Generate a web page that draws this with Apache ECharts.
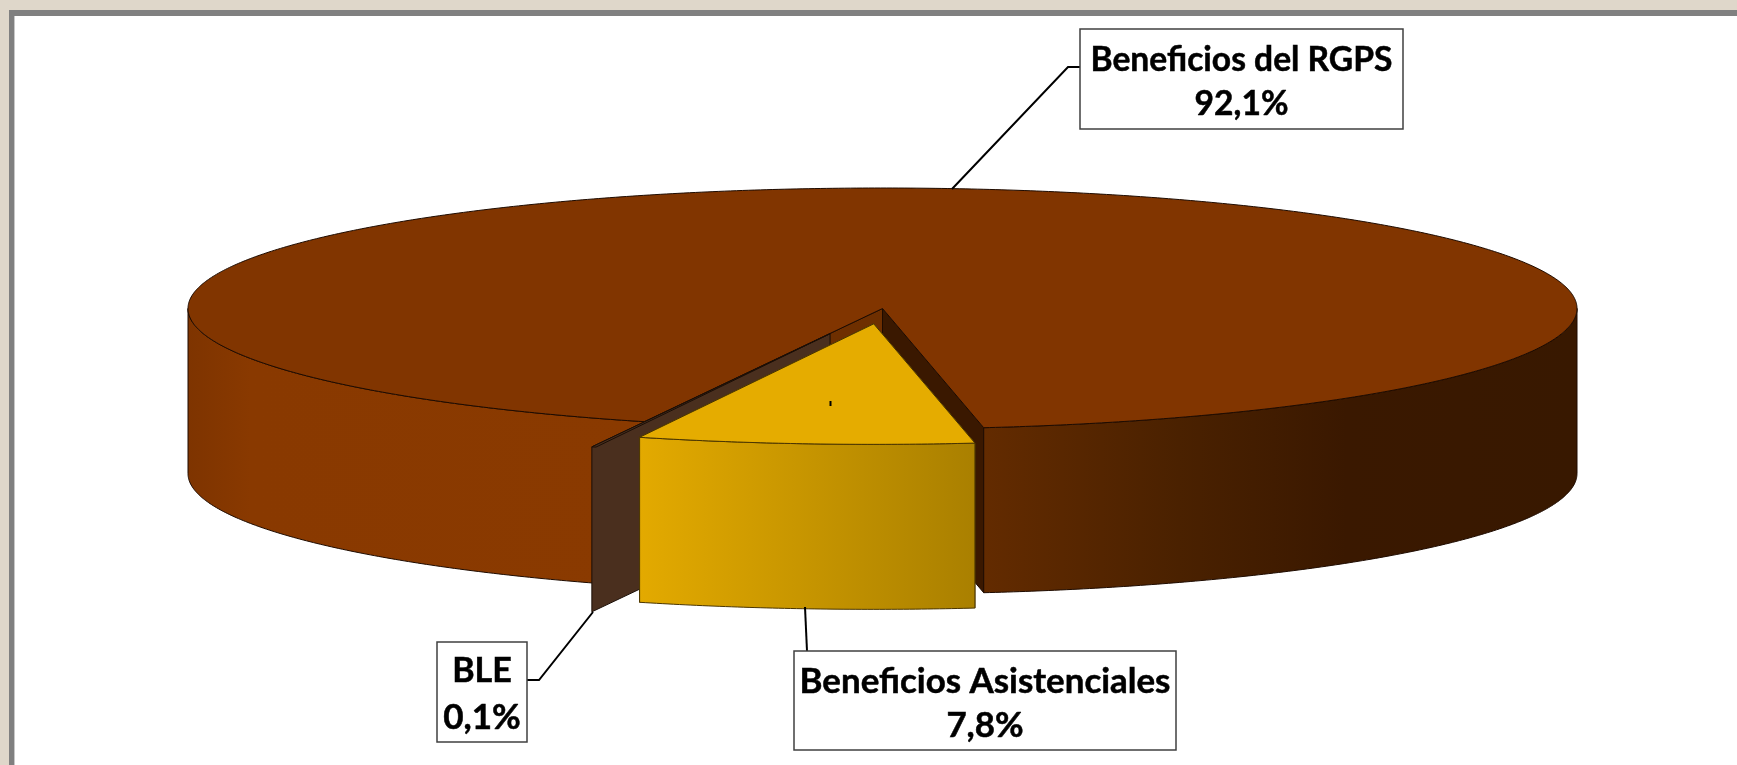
<!DOCTYPE html>
<html>
<head>
<meta charset="utf-8">
<style>
    html, body { margin: 0; padding: 0; background: #dfd7ca; }
    #chart { width: 1737px; height: 765px; }
</style>
<script src="https://cdn.jsdelivr.net/npm/echarts@6/dist/echarts.min.js"></script>
</head>
<body>
<div id="chart"></div>
<script>
const categories = ['Beneficios del RGPS', 'Beneficios Asistenciales', 'BLE'];
const shares = [92.1, 7.8, 0.1];

// pie geometry in pixels, angles in degrees going clockwise on screen
const PIE = { cx: 882.5, cy: 308.5, rx: 694.5, ry: 120.5, depth: 165, startAngle: 110.06 };
const explode = [0, 0.128, 0.222];

// wall stops are offsets over the whole ellipse width
const sliceStyles = [
    {
        top: '#813500', edge: '#1e0b00', startWall: '#6e2f00', endWall: '#3a1800',
        wall: [[0, '#7e3400'], [0.045, '#893900'], [0.329, '#8a3a00'], [0.573, '#632b00'],
            [0.714, '#4a2100'], [0.834, '#3a1800'], [1, '#381800']]
    },
    {
        top: '#e5ac00', edge: '#4a3500', startWall: '#aa8000', endWall: '#aa8000',
        wall: [[0, '#e5ac00'], [0.331, '#e3aa00'], [0.572, '#aa8000'], [1, '#aa8000']]
    },
    {
        top: '#4a2f1e', edge: '#1a0e06', startWall: '#4a2f1e', endWall: '#4a2f1e',
        wall: [[0, '#4a2f1e'], [1, '#4a2f1e']]
    }
];

// callout boxes, leader runs from the pie to the box
const callouts = [
    { box: [1080, 29, 323, 100], lines: [60, 104], leader: [[952, 189], [1068, 67], [1080, 67]], squeeze: [0.988, 0.988] },
    { box: [794, 651, 382, 99], lines: [682, 726], leader: [[805, 607], [807, 651]], squeeze: [1.026, 1.026] },
    { box: [437, 642, 90, 100], lines: [671, 718], leader: [[593, 612], [539, 680], [527, 680]], squeeze: [1, 1.03] }
];

const total = shares.reduce(function (a, b) { return a + b; }, 0);

function rad(deg) {
    return deg * Math.PI / 180;
}

/**
 * Start and end angle of every slice, taken from its share.
 */
function sliceAngles() {
    let from = PIE.startAngle;
    return shares.map(function (share) {
        const to = from + share / total * 360;
        const range = [from, to];
        from = to;
        return range;
    });
}

function rimPoint(deg, ox, oy) {
    return [PIE.cx + ox + PIE.rx * Math.cos(rad(deg)), PIE.cy + oy + PIE.ry * Math.sin(rad(deg))];
}

function arcPoints(from, to, ox, oy) {
    const pts = [];
    const steps = Math.max(1, Math.ceil((to - from) * 2));
    for (let i = 0; i <= steps; i++) {
        pts.push(rimPoint(from + (to - from) * i / steps, ox, oy));
    }
    return pts;
}

function down(pt) {
    return [pt[0], pt[1] + PIE.depth];
}

function poly(points, fill, stroke, z2) {
    return {
        type: 'polygon',
        z2: z2,
        shape: { points: points },
        style: { fill: fill, stroke: stroke, lineWidth: 1, lineJoin: 'round' }
    };
}

// parts of the slice's outer wall that face the viewer
function frontRanges(from, to) {
    const ranges = [];
    [0, 360].forEach(function (base) {
        const a = Math.max(from, base);
        const b = Math.min(to, base + 180);
        if (b > a) {
            ranges.push([a, b]);
        }
    });
    return ranges;
}

function renderSlice(params, api) {
    const i = params.dataIndex;
    const from = sliceAngles()[i][0];
    const to = from + api.value(0) / total * 360;
    const mid = (from + to) / 2;
    const ox = explode[i] * PIE.rx * Math.cos(rad(mid));
    const oy = explode[i] * PIE.ry * Math.sin(rad(mid));
    const st = sliceStyles[i];
    const z = Math.round(Math.sin(rad(mid)) * 10) * 10 + 20;
    const apex = [PIE.cx + ox, PIE.cy + oy];
    const children = [];
    // a sliver under one degree reads as a single plate, not two walls and a rim
    const sliver = to - from < 1;

    const a = rimPoint(from, ox, oy);
    const b = rimPoint(to, ox, oy);
    if (!sliver) {
        children.push(poly([apex, a, down(a), down(apex)], st.startWall, st.edge, z));
    }
    children.push(poly([apex, b, down(b), down(apex)], st.endWall, st.edge, z));

    if (!sliver) {
        const wallFill = {
            type: 'linear', global: true,
            x: PIE.cx + ox - PIE.rx, y: 0, x2: PIE.cx + ox + PIE.rx, y2: 0,
            colorStops: st.wall.map(function (s) { return { offset: s[0], color: s[1] }; })
        };
        frontRanges(from, to).forEach(function (r) {
            const rim = arcPoints(r[0], r[1], ox, oy);
            children.push(poly(rim.concat(rim.map(down).reverse()), wallFill, st.edge, z + 1));
        });
    }

    children.push(poly([apex].concat(arcPoints(from, to, ox, oy)), st.top, st.edge, z + 2));
    return { type: 'group', children: children };
}

function renderCallout(params, api) {
    const i = params.dataIndex;
    const c = callouts[i];
    const percent = api.value(0).toFixed(1).replace('.', ',') + '%';
    const rows = [categories[i], percent];
    const children = [
        {
            type: 'polyline', z2: 200,
            shape: { points: c.leader },
            style: { fill: null, stroke: '#000', lineWidth: 2 }
        },
        {
            type: 'rect', z2: 201,
            shape: { x: c.box[0], y: c.box[1], width: c.box[2], height: c.box[3] },
            style: { fill: '#fff', stroke: '#404040', lineWidth: 1.5 }
        }
    ];
    rows.forEach(function (row, r) {
        children.push({
            type: 'text', z2: 202,
            x: c.box[0] + c.box[2] / 2, y: c.lines[r], scaleX: c.squeeze[r],
            style: {
                x: 0, y: 0, text: row, fill: '#000', stroke: '#000', lineWidth: 0.5,
                font: 'bold 34px Lato', align: 'center', verticalAlign: 'middle'
            }
        });
    });
    return { type: 'group', children: children };
}

const chart = echarts.init(document.getElementById('chart'), null, { renderer: 'canvas' });
chart.setOption({
    animation: false,
    backgroundColor: '#dfd7ca',
    graphic: [
        { type: 'rect', z: -3, shape: { x: 9, y: 10, width: 1728, height: 755 }, style: { fill: '#808080' } },
        { type: 'rect', z: -2, shape: { x: 14, y: 16, width: 1723, height: 749 }, style: { fill: '#c8c8c8' } },
        { type: 'rect', z: -1, shape: { x: 15, y: 16, width: 1722, height: 749 }, style: { fill: '#fff' } },
        // stray label tick sitting on the yellow slice in the original
        { type: 'rect', z: 50, shape: { x: 829.5, y: 401, width: 2, height: 5 }, style: { fill: '#000' } }
    ],
    series: [
        {
            type: 'custom',
            coordinateSystem: 'none',
            silent: true,
            data: shares.map(function (v) { return [v]; }),
            renderItem: renderSlice
        },
        {
            type: 'custom',
            coordinateSystem: 'none',
            silent: true,
            z: 60,
            data: shares.map(function (v) { return [v]; }),
            renderItem: renderCallout
        }
    ]
});
</script>
</body>
</html>
